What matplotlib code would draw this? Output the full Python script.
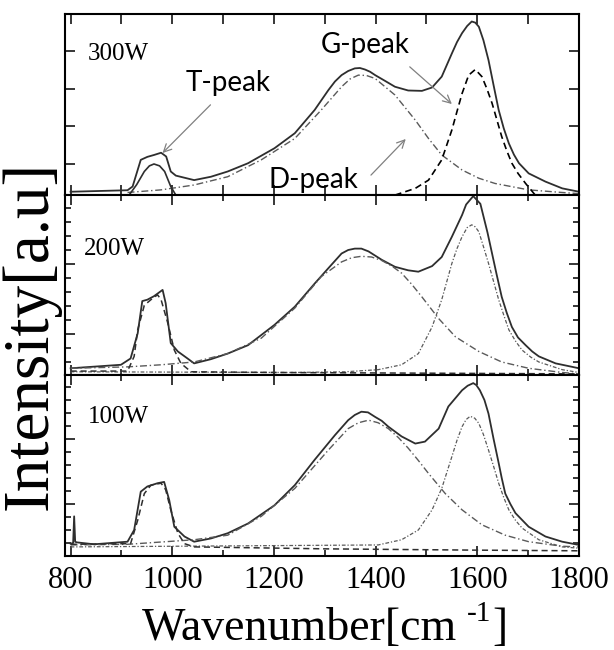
# raman spectra of films at 3 rf powers, with T / D / G peak fits
# values (arbitrary intensity units per panel)

import numpy as np
import matplotlib.pyplot as plt
from matplotlib.ticker import MultipleLocator, FixedLocator

# ---- 300W ----
wn_300 = [800, 912, 922, 938, 951, 964, 978, 988, 997, 1007, 1043, 1076, 1109, 1149, 1201,
          1241, 1280, 1307, 1320, 1333, 1346, 1359, 1369, 1379, 1389, 1399, 1418, 1438,
          1464, 1491, 1511, 1530, 1550, 1560, 1570, 1580, 1589, 1596, 1603, 1612, 1622,
          1632, 1642, 1652, 1662, 1672, 1682, 1701, 1734, 1767, 1800]
spec_300 = [0.26, 0.30, 0.40, 1.11, 1.19, 1.24, 1.30, 1.20, 0.80, 0.69, 0.57, 0.66, 0.80,
            1.02, 1.42, 1.82, 2.44, 2.97, 3.20, 3.37, 3.48, 3.55, 3.56, 3.52, 3.46, 3.37,
            3.22, 3.06, 2.96, 2.95, 3.04, 3.33, 3.95, 4.25, 4.49, 4.68, 4.80, 4.77, 4.66,
            4.30, 3.77, 3.10, 2.44, 1.95, 1.55, 1.25, 1.02, 0.75, 0.53, 0.35, 0.26]
wn_300_d = [912, 978, 1043, 1109, 1175, 1241, 1293, 1333, 1350, 1366, 1382, 1399, 1438,
            1478, 1504, 1530, 1570, 1603, 1635, 1701, 1767, 1800]
d_300 = [0.24, 0.31, 0.44, 0.66, 1.11, 1.68, 2.44, 3.06, 3.27, 3.37, 3.36, 3.28, 2.84,
         2.17, 1.68, 1.24, 0.84, 0.62, 0.48, 0.31, 0.24, 0.21]
wn_300_g = [1438, 1478, 1504, 1530, 1550, 1560, 1570, 1583, 1596, 1609, 1619, 1629, 1638,
            1648, 1658, 1668, 1680, 1695, 1714]
g_300 = [0.17, 0.35, 0.57, 1.11, 1.91, 2.40, 2.88, 3.37, 3.52, 3.33, 3.00, 2.62, 2.20,
         1.73, 1.35, 1.02, 0.75, 0.48, 0.17]
wn_300_t = [915, 930, 945, 955, 964, 975, 985, 997, 1007]
t_300 = [0.17, 0.45, 0.80, 0.95, 1.00, 0.95, 0.80, 0.40, 0.17]

# ---- 200W ----
wn_200 = [800, 899, 918, 932, 941, 951, 964, 981, 987, 997, 1011, 1030, 1043, 1076, 1109,
          1149, 1201, 1241, 1280, 1307, 1333, 1346, 1359, 1372, 1386, 1412, 1438, 1464,
          1484, 1511, 1530, 1550, 1570, 1578, 1592, 1606, 1620, 1629, 1638, 1648, 1658,
          1668, 1680, 1695, 1708, 1721, 1754, 1800]
spec_200 = [0.51, 0.56, 0.65, 1.01, 1.47, 1.49, 1.54, 1.63, 1.44, 0.87, 0.75, 0.65, 0.58,
            0.64, 0.72, 0.84, 1.13, 1.39, 1.72, 1.94, 2.15, 2.20, 2.22, 2.22, 2.18, 2.06,
            1.96, 1.91, 1.89, 1.97, 2.10, 2.39, 2.70, 2.85, 2.97, 2.86, 2.45, 2.15, 1.85,
            1.53, 1.30, 1.10, 0.95, 0.84, 0.75, 0.68, 0.58, 0.51]
wn_200_d = [800, 912, 978, 1043, 1109, 1175, 1241, 1293, 1333, 1353, 1372, 1392, 1412,
            1432, 1451, 1471, 1491, 1524, 1557, 1603, 1648, 1701, 1767, 1800]
d_200 = [0.51, 0.53, 0.56, 0.60, 0.72, 0.94, 1.37, 1.82, 2.03, 2.09, 2.11, 2.10, 2.05,
         1.97, 1.87, 1.71, 1.53, 1.22, 0.96, 0.75, 0.60, 0.51, 0.45, 0.43]
wn_200_g = [800, 1241, 1340, 1405, 1451, 1484, 1511, 1530, 1540, 1550, 1560, 1570, 1580,
            1589, 1596, 1603, 1612, 1622, 1632, 1642, 1652, 1662, 1675, 1688, 1705, 1721,
            1767, 1800]
g_200 = [0.46, 0.45, 0.46, 0.49, 0.56, 0.72, 1.10, 1.49, 1.75, 2.01, 2.22, 2.39, 2.52,
         2.56, 2.53, 2.46, 2.25, 2.01, 1.75, 1.49, 1.27, 1.06, 0.90, 0.77, 0.67, 0.60,
         0.49, 0.45]
wn_200_t = [800, 912, 925, 932, 945, 958, 971, 978, 991, 1004, 1017, 1037, 1200, 1500, 1800]
t_200 = [0.47, 0.47, 0.68, 1.06, 1.41, 1.49, 1.56, 1.49, 1.16, 0.77, 0.58, 0.46, 0.45,
         0.44, 0.43]

# ---- 100W ----
wn_100 = [800, 805, 807, 809, 812, 846, 912, 925, 938, 951, 971, 984, 994, 1004, 1024,
          1043, 1076, 1109, 1149, 1201, 1241, 1280, 1320, 1346, 1359, 1372, 1385, 1399,
          1412, 1425, 1451, 1478, 1497, 1524, 1543, 1570, 1581, 1592, 1598, 1605, 1614,
          1622, 1632, 1642, 1648, 1655, 1665, 1675, 1701, 1734, 1767, 1800]
spec_100 = [0.39, 0.40, 0.81, 0.42, 0.41, 0.38, 0.42, 0.60, 1.19, 1.27, 1.32, 1.34, 1.06,
            0.65, 0.50, 0.42, 0.47, 0.55, 0.70, 0.98, 1.29, 1.68, 2.06, 2.29, 2.37, 2.42,
            2.41, 2.34, 2.28, 2.19, 2.04, 1.93, 1.96, 2.16, 2.50, 2.75, 2.82, 2.86, 2.83,
            2.75, 2.60, 2.39, 2.00, 1.63, 1.40, 1.16, 1.00, 0.86, 0.65, 0.50, 0.42, 0.37]
wn_100_d = [800, 912, 1043, 1109, 1175, 1241, 1307, 1346, 1366, 1386, 1405, 1425, 1445,
            1464, 1484, 1504, 1537, 1570, 1609, 1655, 1701, 1767, 1800]
d_100 = [0.37, 0.38, 0.45, 0.52, 0.81, 1.24, 1.83, 2.16, 2.25, 2.29, 2.25, 2.16, 2.02,
         1.86, 1.67, 1.47, 1.16, 0.91, 0.68, 0.52, 0.42, 0.35, 0.34]
wn_100_g = [800, 1405, 1451, 1484, 1511, 1530, 1550, 1560, 1570, 1578, 1586, 1595, 1603,
            1612, 1622, 1632, 1642, 1652, 1662, 1675, 1688, 1721, 1767, 1800]
g_100 = [0.34, 0.37, 0.45, 0.60, 0.91, 1.24, 1.73, 1.98, 2.19, 2.30, 2.35, 2.32, 2.24,
         2.07, 1.83, 1.58, 1.32, 1.10, 0.91, 0.75, 0.63, 0.45, 0.34, 0.32]
wn_100_t = [800, 918, 932, 945, 958, 978, 987, 997, 1011, 1024, 1043, 1300, 1600, 1800]
t_100 = [0.38, 0.39, 0.75, 1.16, 1.29, 1.32, 1.22, 0.91, 0.55, 0.39, 0.34, 0.31, 0.29, 0.28]

powers = ["300W", "200W", "100W"]

# ---- figure layout (pixels of the original 614x650) ----
fig = plt.figure(figsize=(6.14, 6.5), dpi=100)
left, width = 65 / 614, 514 / 614
ax_top = fig.add_axes([left, 1 - 195 / 650, width, 181 / 650])
ax_mid = fig.add_axes([left, 1 - 375 / 650, width, 180 / 650])
ax_bot = fig.add_axes([left, 1 - 556 / 650, width, 181 / 650])
axes = [ax_top, ax_mid, ax_bot]

spec_col = "#2e2e2e"
fit_col = "#5a5a5a"
dashdot = (0, (5, 2, 1, 2))
dashdot_fine = (0, (3, 1.5, 1, 1.5))
dashed = (0, (4, 2.5))

# top panel
ax_top.plot(wn_300, spec_300, color=spec_col, lw=1.3)
ax_top.plot(wn_300_d, d_300, color=fit_col, lw=1.0, ls=dashdot)
ax_top.plot(wn_300_g, g_300, color="black", lw=1.2, ls=dashed)
ax_top.plot(wn_300_t, t_300, color=spec_col, lw=1.2)

# middle panel
ax_mid.plot(wn_200, spec_200, color=spec_col, lw=1.3, clip_on=False)
ax_mid.plot(wn_200_d, d_200, color=fit_col, lw=1.0, ls=dashdot)
ax_mid.plot(wn_200_g, g_200, color=fit_col, lw=0.9, ls=dashdot_fine)
ax_mid.plot(wn_200_t, t_200, color=spec_col, lw=1.1, ls=dashed)

# bottom panel
ax_bot.plot(wn_100, spec_100, color=spec_col, lw=1.3)
ax_bot.plot(wn_100_d, d_100, color=fit_col, lw=1.0, ls=dashdot)
ax_bot.plot(wn_100_g, g_100, color=fit_col, lw=0.9, ls=dashdot_fine)
ax_bot.plot(wn_100_t, t_100, color=spec_col, lw=1.1, ls=dashed)

ax_top.set_ylim(0.173, 5.0)
ax_mid.set_ylim(0.414, 2.986)
ax_bot.set_ylim(0.2, 2.985)

ax_top.yaxis.set_major_locator(FixedLocator([1, 2, 3, 4]))
for ax in (ax_mid, ax_bot):
    ax.yaxis.set_major_locator(FixedLocator([1, 2]))
    ax.yaxis.set_minor_locator(MultipleLocator(0.2))

for ax in axes:
    ax.set_xlim(789, 1800)
    ax.xaxis.set_major_locator(MultipleLocator(200))
    ax.xaxis.set_minor_locator(MultipleLocator(100))
    ax.tick_params(which="both", direction="in", top=True, right=True,
                   labelleft=False, labelbottom=False, width=1.1)
    ax.tick_params(which="major", length=7.5)
    ax.tick_params(which="minor", length=4.5)
    for s in ax.spines.values():
        s.set_linewidth(1.5)

# top panel x minor ticks look as long as the majors
ax_top.tick_params(axis="x", which="minor", length=7)

ax_bot.tick_params(axis="x", labelbottom=True, labelsize=22, pad=7)
for lab in ax_bot.get_xticklabels():
    lab.set_fontfamily("Liberation Serif")

# power labels
serif = "Liberation Serif"
ax_top.text(0.044, 0.746, powers[0], transform=ax_top.transAxes, fontsize=18,
            family=serif, va="baseline")
ax_mid.text(0.036, 0.667, powers[1], transform=ax_mid.transAxes, fontsize=18,
            family=serif, va="baseline")
ax_bot.text(0.044, 0.735, powers[2], transform=ax_bot.transAxes, fontsize=18,
            family=serif, va="baseline")

# peak labels + arrows
arrow = dict(arrowstyle="->", color="#808080", lw=0.9, mutation_scale=14)
ax_top.text(1109, 3.16, "T-peak", fontsize=20, family="Lato", ha="center", va="center")
ax_top.annotate("", xy=(977, 1.24), xytext=(1079, 2.63), arrowprops=arrow)
ax_top.text(1379, 4.17, "G-peak", fontsize=20, family="Lato", ha="center", va="center")
ax_top.annotate("", xy=(1554, 2.55), xytext=(1463, 3.64), arrowprops=arrow)
ax_top.text(1277, 0.57, "D-peak", fontsize=20, family="Lato", ha="center", va="center",
            clip_on=False, zorder=5)
ax_top.annotate("", xy=(1463, 1.72), xytext=(1387, 0.65), arrowprops=arrow)

# axis titles - x label built from 3 pieces so the superscript keeps a plain hyphen
xl = fig.text(142 / 614, 10 / 650, "Wavenumber[cm", fontsize=33, family=serif,
              ha="left", va="baseline")
sup = fig.text(0, 0, "-1", fontsize=21, family=serif, ha="left", va="baseline")
fig.canvas.draw()
r = fig.canvas.get_renderer()
bb = xl.get_window_extent(r)
sup.set_position(((bb.x1 + 10) / fig.bbox.width, (10 + 19) / 650))
bb2 = sup.get_window_extent(r)
fig.text((bb2.x1 + 1) / fig.bbox.width, 10 / 650, "]", fontsize=33, family=serif,
         ha="left", va="baseline")

fig.text(31 / 614, 1 - 335 / 650, "Intensity[a.u]", fontsize=47, family=serif,
         rotation=90, ha="center", va="center")

fig.savefig("out.png", dpi=100)
